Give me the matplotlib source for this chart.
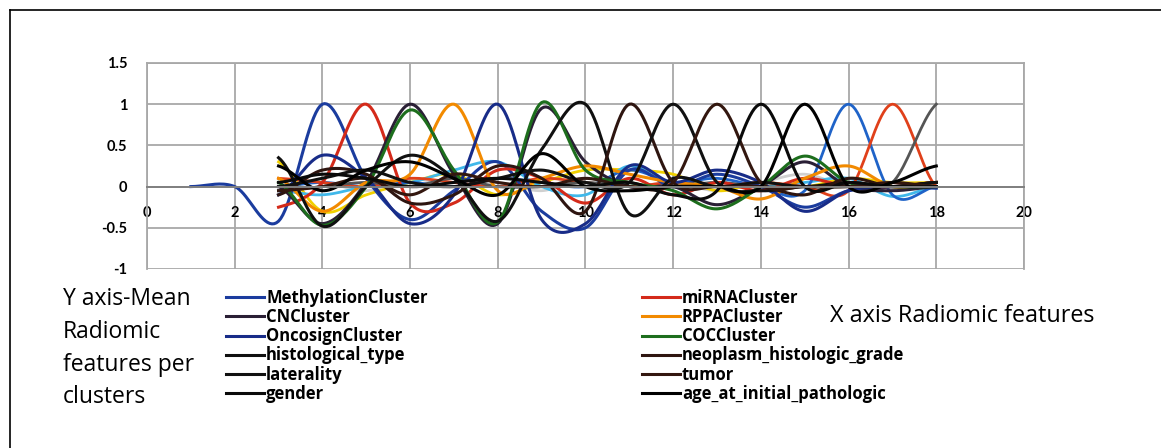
import numpy as np
import matplotlib.pyplot as plt
from matplotlib.lines import Line2D

plt.rcParams['font.family'] = ['Lato', 'DejaVu Sans']

# feature positions (x axis)
x_meth = np.arange(1, 19)
x_main = np.arange(3, 19)

# mean radiomic feature values per cluster / clinical variable
methylation = [0, 0, -0.42, 1.0, 0.10, -0.40, -0.05, 0.30, -0.30, -0.50, 0.20, 0.0, 0.15, 0.0, -0.25, -0.05, 0.0, -0.02]
mirna = [-0.25, 0.05, 1.0, -0.20, -0.20, 0.20, 0.10, -0.20, 0.10, -0.10, 0.05, -0.05, 0.10, 0.0, 0.0, 0.05]
cn = [0.0, -0.45, 0.05, 1.0, 0.15, -0.45, 0.95, 0.30, 0.0, 0.0, -0.22, 0.0, 0.30, 0.0, -0.05, 0.0]
rppa = [0.10, -0.30, 0.05, 0.15, 1.0, -0.05, 0.10, 0.25, 0.15, 0.05, 0.0, -0.15, 0.10, 0.25, 0.0, 0.05]
oncosign = [-0.10, 0.38, 0.10, -0.45, -0.10, 1.0, -0.40, -0.45, 0.25, 0.05, 0.20, 0.05, -0.30, -0.05, 0.0, 0.0]
coc = [0.05, -0.47, 0.0, 0.93, 0.20, -0.43, 1.02, 0.20, 0.05, -0.05, -0.27, 0.0, 0.37, 0.05, 0.0, 0.0]
histological_type = [0.35, -0.48, 0.0, 0.38, 0.10, -0.42, 0.45, 1.0, -0.33, 0.10, 0.0, 0.05, 0.0, 0.05, 0.0, 0.05]
neoplasm_grade = [-0.10, 0.20, 0.15, -0.20, -0.10, 0.25, 0.10, -0.30, 1.0, 0.05, 0.0, 0.0, -0.10, 0.10, 0.0, 0.05]
laterality = [0.0, 0.10, 0.20, 0.05, 0.0, 0.10, 0.20, 0.05, 0.05, 1.0, 0.05, -0.05, 0.0, 0.0, 0.0, 0.05]
tumor = [-0.05, 0.0, 0.10, -0.10, 0.15, 0.05, 0.0, 0.10, 0.0, 0.05, 1.0, 0.05, 0.0, 0.0, 0.05, 0.0]
gender = [0.05, 0.15, 0.10, 0.0, 0.05, 0.10, 0.05, 0.0, 0.05, -0.10, -0.05, 1.0, 0.0, 0.05, 0.0, 0.0]
age = [0.25, -0.05, 0.20, 0.30, 0.10, -0.10, 0.40, 0.0, -0.05, 0.0, 0.0, 0.0, 1.0, 0.0, 0.05, 0.25]
# series beyond the visible legend
extra16 = [0.0, 0.05, 0.0, 0.05, 0.0, 0.10, 0.05, 0.0, 0.20, 0.05, 0.10, 0.0, -0.05, 1.0, -0.10, 0.0]
extra17 = [0.10, 0.05, 0.0, 0.10, 0.05, 0.0, 0.10, 0.05, 0.0, 0.05, 0.0, 0.05, 0.0, -0.05, 1.0, 0.0]
extra18 = [-0.05, 0.0, 0.05, 0.0, 0.10, 0.0, 0.0, 0.05, 0.0, 0.0, 0.05, 0.0, 0.0, 0.0, 0.05, 1.0]
yellow = [0.30, -0.30, -0.10, 0.05, 0.15, -0.10, 0.05, 0.20, 0.20, 0.15, -0.05, 0.05, 0.0, 0.10, 0.05, 0.05]
cyan = [-0.05, -0.10, 0.0, 0.05, 0.20, 0.30, 0.0, -0.10, 0.25, 0.0, 0.05, 0.0, 0.05, 0.10, -0.12, 0.0]
light = [0.0, 0.05, -0.05, 0.10, 0.0, 0.05, -0.05, 0.10, 0.0, 0.05, -0.05, 0.05, 0.15, 0.0, 0.05, 0.0]

labels_left = ['MethylationCluster', 'CNCluster', 'OncosignCluster',
               'histological_type', 'laterality', 'gender']
labels_right = ['miRNACluster', 'RPPACluster', 'COCCluster',
                'neoplasm_histologic_grade', 'tumor', 'age_at_initial_pathologic']


def smooth(x, y, n=20):
    # catmull-rom style smoothing like excel smoothed lines
    x = np.asarray(x, float)
    y = np.asarray(y, float)
    m = np.zeros_like(y)
    m[1:-1] = (y[2:] - y[:-2]) / 2
    m[0] = (y[1] - y[0]) / 2
    m[-1] = (y[-1] - y[-2]) / 2
    xs, ys = [], []
    t = np.linspace(0, 1, n, endpoint=False)
    for i in range(len(x) - 1):
        h00 = 2*t**3 - 3*t**2 + 1
        h10 = t**3 - 2*t**2 + t
        h01 = -2*t**3 + 3*t**2
        h11 = t**3 - t**2
        xs.append(x[i] + t*(x[i+1] - x[i]))
        ys.append(h00*y[i] + h10*m[i] + h01*y[i+1] + h11*m[i+1])
    xs.append([x[-1]])
    ys.append([y[-1]])
    return np.concatenate(xs), np.concatenate(ys)


fig = plt.figure(figsize=(11.61, 4.48), dpi=100)
ax = fig.add_axes([0.1266, 0.3996, 0.7554, 0.4598])

ax.set_xlim(0, 20)
ax.set_ylim(-1, 1.5)
ax.set_xticks(range(0, 21, 2))
ax.set_yticks([-1, -0.5, 0, 0.5, 1, 1.5])
ax.set_yticklabels(['-1', '-0.5', '0', '0.5', '1', '1.5'])
ax.grid(True, color='#a8a8a8', lw=1.3)
ax.set_axisbelow(True)
for s in ['top', 'right', 'left']:
    ax.spines[s].set_color('#a8a8a8')
    ax.spines[s].set_linewidth(1.3)
ax.spines['bottom'].set_position(('data', 0))
ax.spines['bottom'].set_color('#808080')
ax.spines['bottom'].set_linewidth(1.4)
ax.tick_params(axis='x', length=0, pad=14, labelsize=10.5)
ax.tick_params(axis='y', length=0, pad=14, labelsize=10.5)
for lab in ax.get_xticklabels() + ax.get_yticklabels():
    lab.set_fontweight('bold')

# background lines (no legend entry)
for vals, col in [(light, '#d0d0d0'), (yellow, '#f0d000'), (cyan, '#40b8ea'),
                  (extra16, '#1f63c8'), (extra17, '#e0401a'), (extra18, '#555555')]:
    ax.plot(*smooth(x_main, vals), color=col, lw=2.0)

series = [
    (x_meth, methylation, '#1b3c9e', 'MethylationCluster'),
    (x_main, mirna, '#d42a1a', 'miRNACluster'),
    (x_main, cn, '#2a1f35', 'CNCluster'),
    (x_main, rppa, '#f28a00', 'RPPACluster'),
    (x_main, oncosign, '#182c88', 'OncosignCluster'),
    (x_main, coc, '#1d6e1d', 'COCCluster'),
    (x_main, histological_type, '#101010', 'histological_type'),
    (x_main, neoplasm_grade, '#2e1510', 'neoplasm_histologic_grade'),
    (x_main, laterality, '#111111', 'laterality'),
    (x_main, tumor, '#33170f', 'tumor'),
    (x_main, gender, '#0a0a0a', 'gender'),
    (x_main, age, '#000000', 'age_at_initial_pathologic'),
]
handles = {}
for xv, yv, col, name in series:
    line, = ax.plot(*smooth(xv, yv), color=col, lw=2.2, label=name)
    handles[name] = line

leg_kw = dict(frameon=False, loc='upper left', borderpad=0, borderaxespad=0,
              handlelength=2.3, handletextpad=0.1, labelspacing=0.07,
              prop={'family': ['Open Sans', 'DejaVu Sans'], 'weight': 'bold', 'size': 12})
leg1 = fig.legend([handles[n] for n in labels_left], labels_left,
                  bbox_to_anchor=(226/1161, 1 - 289/448), **leg_kw)
leg2 = fig.legend([handles[n] for n in labels_right], labels_right,
                  bbox_to_anchor=(642/1161, 1 - 289/448), **leg_kw)

fig.text(63/1161, 1 - 287/448, 'Y axis-Mean\nRadiomic\nfeatures per\nclusters',
         fontsize=16.5, va='top', ha='left', linespacing=1.49,
         family=['Open Sans', 'DejaVu Sans'])
fig.text(830/1161, 1 - 316/448, 'X axis Radiomic features',
         fontsize=16.8, va='center', ha='left', family=['Open Sans', 'DejaVu Sans'])

# outer frame (top and left edges only)
fig.add_artist(Line2D([10/1161, 10/1161], [0, 1 - 10/448], color='black', lw=1.2))
fig.add_artist(Line2D([10/1161, 1], [1 - 10/448, 1 - 10/448], color='black', lw=1.2))

fig.savefig('out.png', dpi=100)
